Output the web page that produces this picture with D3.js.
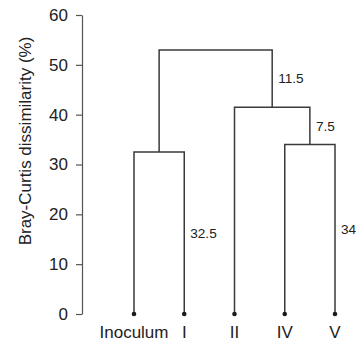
<!DOCTYPE html>
<html>
<head>
<meta charset="utf-8">
<script src="https://cdn.jsdelivr.net/npm/d3@7/dist/d3.min.js"></script>
<style>
  html, body { margin: 0; padding: 0; background: #fff; }
  svg { display: block; font-family: "Liberation Sans", Arial, sans-serif; }
</style>
</head>
<body>
<svg id="chart" width="356" height="344"></svg>
<script>
// Samples (leaves, left to right)
const leaves = ["Inoculum", "I", "II", "IV", "V"];
// Y axis ticks (%)
const yTicks = [0, 10, 20, 30, 40, 50, 60];
// Merge steps: [left child, right child, height of join]
const merges = [
  ["Inoculum", "I", 32.5],
  ["IV", "V", 34],
  ["II", "IV+V", 41.5],
  ["Inoculum+I", "II+IV+V", 53]
];
// Branch annotations: [node whose vertical carries the label, text]
const branchLabels = [
  ["I", "32.5"],
  ["V", "34"],
  ["IV+V", "7.5"],
  ["II+IV+V", "11.5"]
];

const svg = d3.select("#chart");
const lineColor = "#3a3a3a";

const x = d3.scalePoint().domain(leaves).range([134, 335]);
const y = d3.scaleLinear().domain([0, 60]).range([314, 15]);

// Node table: position, own height and height of the join above it
const nodes = {};
leaves.forEach(l => nodes[l] = { x: x(l), h: 0 });
merges.forEach(([a, b, h]) => {
  const key = a + "+" + b;
  nodes[a].parentH = h;
  nodes[b].parentH = h;
  nodes[key] = { x: (nodes[a].x + nodes[b].x) / 2, h: h };
});

// Dendrogram links (up from each child, across at the join height)
const g = svg.append("g")
  .attr("fill", "none")
  .attr("stroke", lineColor)
  .attr("stroke-width", 1.5);

merges.forEach(([a, b, h]) => {
  const na = nodes[a], nb = nodes[b];
  const path = d3.path();
  path.moveTo(na.x, y(na.h));
  path.lineTo(na.x, y(h));
  path.lineTo(nb.x, y(h));
  path.lineTo(nb.x, y(nb.h));
  g.append("path").attr("d", path.toString());
});

// Leaf markers
svg.append("g").selectAll("circle")
  .data(leaves)
  .join("circle")
  .attr("cx", d => x(d))
  .attr("cy", y(0))
  .attr("r", 2.3)
  .attr("fill", "#1a1a1a");

// Leaf labels
svg.append("g").selectAll("text")
  .data(leaves)
  .join("text")
  .attr("x", d => x(d))
  .attr("y", 338)
  .attr("text-anchor", "middle")
  .attr("font-size", 17)
  .attr("fill", "#222")
  .text(d => d);

// Branch annotations at the midpoint of each vertical segment
svg.append("g").selectAll("text")
  .data(branchLabels)
  .join("text")
  .attr("x", d => nodes[d[0]].x + 6)
  .attr("y", d => y((nodes[d[0]].h + nodes[d[0]].parentH) / 2))
  .attr("dy", "0.35em")
  .attr("font-size", 13.6)
  .attr("fill", "#222")
  .text(d => d[1]);

// Y axis
const axis = svg.append("g")
  .attr("transform", "translate(82,0)")
  .call(d3.axisLeft(y).tickValues(yTicks).tickSize(6).tickSizeOuter(0).tickPadding(8));
axis.select(".domain").attr("stroke", "#555").attr("stroke-width", 1.2);
axis.selectAll(".tick line").attr("stroke", "#555").attr("stroke-width", 1.2);
axis.selectAll(".tick text")
  .attr("font-size", 17)
  .attr("font-family", "\"Liberation Sans\", Arial, sans-serif")
  .attr("fill", "#222");

// Y axis title
svg.append("text")
  .attr("transform", "translate(25,141) rotate(-90)")
  .attr("text-anchor", "middle")
  .attr("dy", "0.35em")
  .attr("font-size", 17)
  .attr("fill", "#222")
  .text("Bray-Curtis dissimilarity (%)");
</script>
</body>
</html>
